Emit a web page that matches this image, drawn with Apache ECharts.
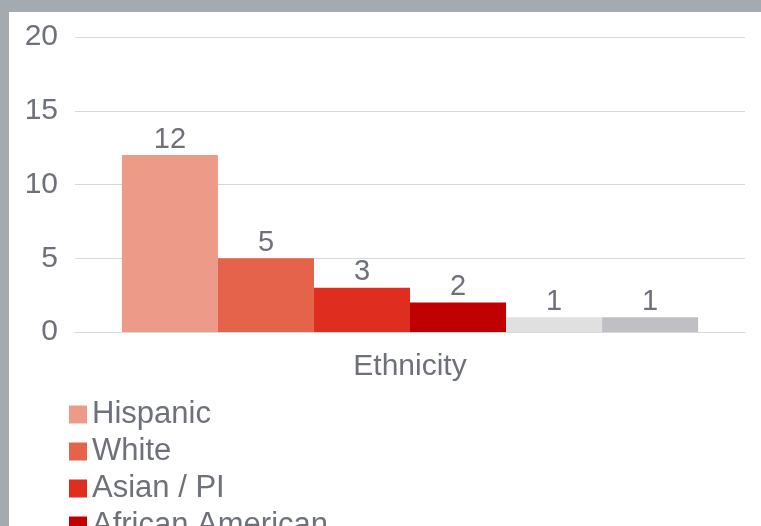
<!DOCTYPE html>
<html><head><meta charset="utf-8">
<script src="https://cdn.jsdelivr.net/npm/echarts@6/dist/echarts.min.js"></script>
<style>
html,body{margin:0;padding:0;width:761px;height:526px;overflow:hidden;background:#a3abb0;}
#c{position:absolute;left:9px;top:12px;width:752px;height:514px;background:#ffffff;}
</style></head>
<body><div id="c"></div>
<script>
const categories = ['Ethnicity'];
const seriesNames = ['Hispanic', 'White', 'Asian / PI', 'African American', 'Other', 'Unknown'];
const seriesValues = [12, 5, 3, 2, 1, 1];
const seriesColors = ['#ee9a88', '#e5634a', '#df2e20', '#c00000', '#e0e0e0', '#c0c0c4'];
const yTicks = [0, 5, 10, 15, 20];

const txt = '#6e717a';
const font = 'Liberation Sans, Arial, sans-serif';
const chart = echarts.init(document.getElementById('c'));
chart.setOption({
  animation: false,
  grid: {left: 66, right: 16, top: 25, bottom: 194},
  legend: {
    orient: 'vertical', left: 55, top: 379, height: 600,
    itemWidth: 18, itemHeight: 18, itemGap: 0,
    icon: 'rect',
    textStyle: {color: txt, fontSize: 31, fontFamily: font, lineHeight: 37},
    data: seriesNames
  },
  xAxis: {
    type: 'category', data: categories,
    axisLine: {lineStyle: {color: '#d9d9d9'}},
    axisTick: {show: false},
    axisLabel: {color: txt, fontSize: 30, fontFamily: font, margin: 20}
  },
  yAxis: {
    type: 'value', min: yTicks[0], max: yTicks[yTicks.length - 1], interval: 5,
    axisLine: {show: false}, axisTick: {show: false},
    splitLine: {lineStyle: {color: '#d9d9d9', width: 1}},
    axisLabel: {color: txt, fontSize: 30, fontFamily: font, margin: 17}
  },
  series: seriesNames.map((n, i) => ({
    name: n, type: 'bar', data: [seriesValues[i]],
    barGap: '0%', barCategoryGap: '14%',
    itemStyle: {color: seriesColors[i]},
    label: {show: true, position: 'top', distance: 1, color: txt, fontSize: 29, fontFamily: font}
  }))
});
</script></body></html>
